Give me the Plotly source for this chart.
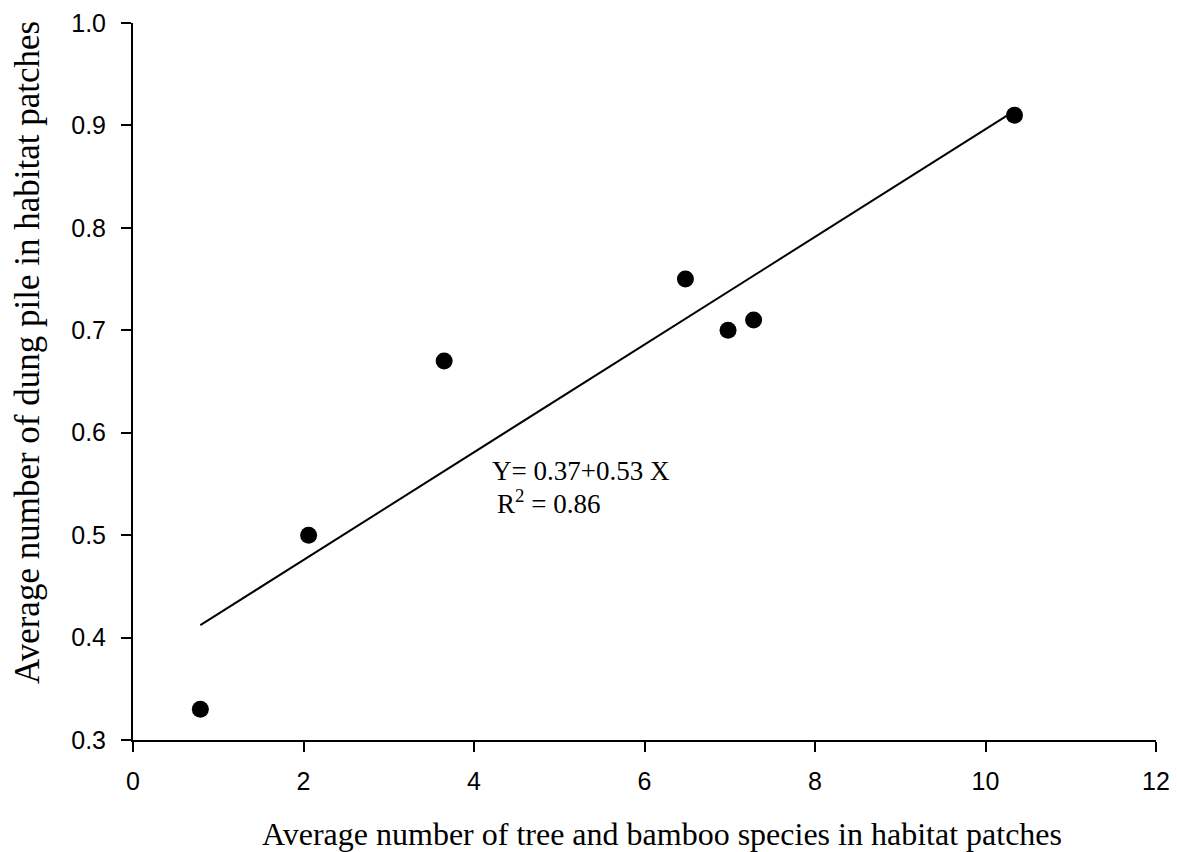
import numpy as np
import plotly.graph_objects as go

# Data
tree_bamboo_species = [0.79, 2.06, 3.65, 6.48, 6.98, 7.28, 10.34]
dung_piles = [0.33, 0.50, 0.67, 0.75, 0.70, 0.71, 0.91]

x_ticks = [0, 2, 4, 6, 8, 10, 12]
y_ticks = [0.3, 0.4, 0.5, 0.6, 0.7, 0.8, 0.9, 1.0]

equation_text = "Y= 0.37+0.53 X"
r2_text = "R<sup>2</sup> = 0.86"
x_title = "Average number of tree and bamboo species in habitat patches"
y_title = "Average number of dung pile in habitat patches"

# Linear fit through the data
slope, intercept = np.polyfit(tree_bamboo_species, dung_piles, 1)
fit_x = [min(tree_bamboo_species), max(tree_bamboo_species)]
fit_y = [intercept + slope * v for v in fit_x]

# the page body adds an 8px offset; size the figure to compensate
OFF = 8
W, H = 1177 - OFF, 852 - OFF
L, R, T, B = 133 - OFF, 21, 23 - OFF, 112
plot_h = H - T - B
plot_w = W - L - R

fig = go.Figure()
fig.add_trace(go.Scatter(x=fit_x, y=fit_y, mode="lines",
                         line=dict(color="black", width=2), showlegend=False,
                         hoverinfo="skip"))
fig.add_trace(go.Scatter(x=tree_bamboo_species, y=dung_piles, mode="markers",
                         marker=dict(color="black", size=17), showlegend=False))

serif = "Liberation Serif, Times New Roman, serif"
sans = "Liberation Sans, Arial, sans-serif"

axis_common = dict(showline=True, linecolor="black", linewidth=2, mirror=False,
                   ticks="outside", ticklen=10, tickwidth=2, tickcolor="black",
                   showgrid=False, zeroline=False,
                   tickfont=dict(family=sans, size=25, color="black"))

fig.update_xaxes(range=[0, 12], tickvals=x_ticks, ticktext=[str(t) for t in x_ticks],
                 ticklabelstandoff=8, **axis_common)
fig.update_yaxes(range=[0.3, 1.0], tickvals=y_ticks, ticktext=[f"{t:.1f}" for t in y_ticks],
                 ticklabelstandoff=10, **axis_common)

fig.add_annotation(x=4.19, y=0.563, xref="x", yref="y", text=equation_text,
                   showarrow=False, xanchor="left", yanchor="middle",
                   font=dict(family=serif, size=27, color="black"))
fig.add_annotation(x=4.25, y=0.532, xref="x", yref="y", text=r2_text,
                   showarrow=False, xanchor="left", yanchor="middle",
                   font=dict(family=serif, size=27, color="black"))

# Axis titles as annotations for precise placement (page pixel coords minus offset)
def px_to_paper_x(px):
    return (px - OFF - L) / plot_w

def px_to_paper_y(py):
    return ((T + plot_h) - (py - OFF)) / plot_h

fig.add_annotation(x=px_to_paper_x(662), y=px_to_paper_y(834),
                   xref="paper", yref="paper", text=x_title, showarrow=False,
                   xanchor="center", yanchor="middle",
                   font=dict(family=serif, size=32, color="black"))
fig.add_annotation(x=px_to_paper_x(27), y=px_to_paper_y(353),
                   xref="paper", yref="paper", text=y_title, showarrow=False,
                   textangle=-90, xanchor="center", yanchor="middle",
                   font=dict(family=serif, size=35, color="black"))

fig.update_layout(width=W, height=H, margin=dict(l=L, r=R, t=T, b=B, autoexpand=False),
                  plot_bgcolor="white", paper_bgcolor="white")

fig.write_html("out.html")
